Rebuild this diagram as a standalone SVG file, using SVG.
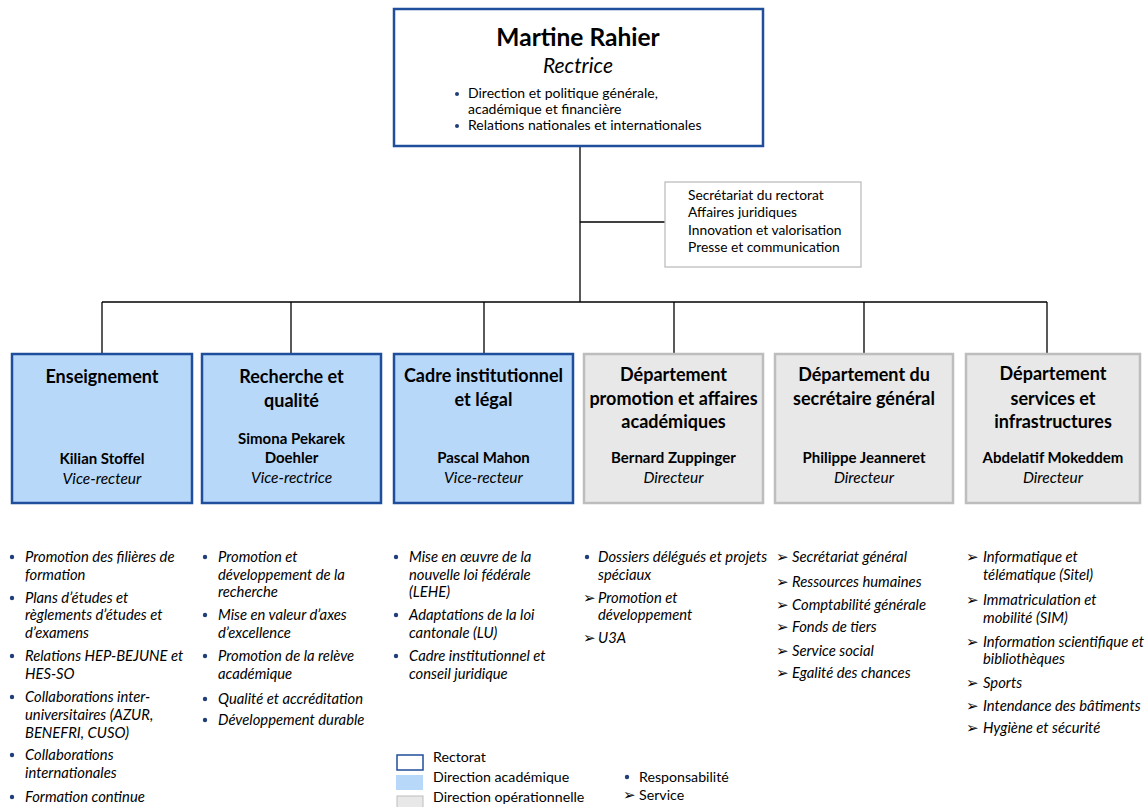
<svg xmlns="http://www.w3.org/2000/svg" width="1146" height="807" viewBox="0 0 1146 807">
<style>
text{font-family:Lato,"Liberation Sans",sans-serif;fill:#000}
.conn{stroke:#000;stroke-width:1.3;fill:none}
.acad{fill:#B8D8FA;stroke:#1F4E9C;stroke-width:2.5}
.oper{fill:#E8E8E8;stroke:#BDBDBD;stroke-width:2.5}
.t{font-size:18px;font-weight:bold;text-anchor:middle}
.n{font-size:15px;font-weight:bold;text-anchor:middle}
.r{font-size:15.5px;font-style:italic;text-anchor:middle}
.li{font-size:14.8px;font-style:italic}
.s{font-size:14px}
.sb{font-size:13.8px}
.lg{font-size:14.2px}
.dot{fill:#1F3E7A}
.arr{font-family:"DejaVu Sans",sans-serif;font-size:15px}
</style>
<g id="connectors">
<line class="conn" x1="580" y1="146" x2="580" y2="302"/>
<line class="conn" x1="580" y1="222" x2="665" y2="222"/>
<line class="conn" x1="102" y1="302" x2="1047" y2="302"/>
<line class="conn" x1="102" y1="302" x2="102" y2="354"/>
<line class="conn" x1="291" y1="302" x2="291" y2="354"/>
<line class="conn" x1="484" y1="302" x2="484" y2="354"/>
<line class="conn" x1="674" y1="302" x2="674" y2="354"/>
<line class="conn" x1="864" y1="302" x2="864" y2="354"/>
<line class="conn" x1="1047" y1="302" x2="1047" y2="354"/>
</g>
<g id="rectrice">
<rect x="394" y="9" width="369" height="137" fill="#fff" stroke="#1F4E9C" stroke-width="2.5"/>
<text x="578" y="46" style="font-size:24.5px;font-weight:bold;text-anchor:middle">Martine Rahier</text>
<text x="578" y="73" style="font-size:21px;font-style:italic;text-anchor:middle">Rectrice</text>
<circle class="dot" cx="457" cy="94" r="2"/>
<text class="s" x="468" y="98">Direction et politique générale,</text>
<text class="s" x="468" y="114">académique et financière</text>
<circle class="dot" cx="457" cy="126" r="2"/>
<text class="s" x="468" y="130">Relations nationales et internationales</text>
</g>
<g id="staff">
<rect x="665" y="182" width="196" height="85" fill="#fff" stroke="#BDBDBD" stroke-width="1.3"/>
<text class="sb" x="688" y="200">Secrétariat du rectorat</text>
<text class="sb" x="688" y="217">Affaires juridiques</text>
<text class="sb" x="688" y="235">Innovation et valorisation</text>
<text class="sb" x="688" y="252">Presse et communication</text>
</g>
<g id="enseignement">
<rect class="acad" x="12" y="354" width="180" height="149"/>
<text class="t" x="102" y="383">Enseignement</text>
<text class="n" x="102" y="464">Kilian Stoffel</text>
<text class="r" x="102" y="484">Vice-recteur</text>
</g>
<g id="recherche">
<rect class="acad" x="202" y="354" width="179" height="149"/>
<text class="t" x="291.5" y="383">Recherche et</text>
<text class="t" x="291.5" y="407">qualité</text>
<text class="n" x="291.5" y="444">Simona Pekarek</text>
<text class="n" x="291.5" y="463">Doehler</text>
<text class="r" x="291.5" y="483">Vice-rectrice</text>
</g>
<g id="cadre">
<rect class="acad" x="394" y="354" width="179" height="149"/>
<text class="t" x="483.5" y="382">Cadre institutionnel</text>
<text class="t" x="483.5" y="406">et légal</text>
<text class="n" x="483.5" y="463">Pascal Mahon</text>
<text class="r" x="483.5" y="483">Vice-recteur</text>
</g>
<g id="promotion">
<rect class="oper" x="584" y="354" width="179" height="149"/>
<text class="t" x="673.5" y="381">Département</text>
<text class="t" x="673.5" y="405">promotion et affaires</text>
<text class="t" x="673.5" y="428">académiques</text>
<text class="n" x="673.5" y="463">Bernard Zuppinger</text>
<text class="r" x="673.5" y="483">Directeur</text>
</g>
<g id="secretaire">
<rect class="oper" x="775" y="354" width="178" height="149"/>
<text class="t" x="864" y="381">Département du</text>
<text class="t" x="864" y="405">secrétaire général</text>
<text class="n" x="864" y="463">Philippe Jeanneret</text>
<text class="r" x="864" y="483">Directeur</text>
</g>
<g id="services">
<rect class="oper" x="966" y="354" width="174" height="149"/>
<text class="t" x="1053" y="380">Département</text>
<text class="t" x="1053" y="405">services et</text>
<text class="t" x="1053" y="428">infrastructures</text>
<text class="n" x="1053" y="463">Abdelatif Mokeddem</text>
<text class="r" x="1053" y="483">Directeur</text>
</g>
<g id="list-enseignement">
<circle class="dot" cx="12" cy="557" r="2.2"/>
<text class="li" x="25" y="562">Promotion des filières de</text>
<text class="li" x="25" y="580">formation</text>
<circle class="dot" cx="12" cy="598" r="2.2"/>
<text class="li" x="25" y="603">Plans d’études et</text>
<text class="li" x="25" y="620">règlements d’études et</text>
<text class="li" x="25" y="638">d’examens</text>
<circle class="dot" cx="12" cy="656" r="2.2"/>
<text class="li" x="25" y="661">Relations HEP-BEJUNE et</text>
<text class="li" x="25" y="679">HES-SO</text>
<circle class="dot" cx="12" cy="697" r="2.2"/>
<text class="li" x="25" y="702">Collaborations inter-</text>
<text class="li" x="25" y="720">universitaires (AZUR,</text>
<text class="li" x="25" y="738">BENEFRI, CUSO)</text>
<circle class="dot" cx="12" cy="755" r="2.2"/>
<text class="li" x="25" y="760">Collaborations</text>
<text class="li" x="25" y="778">internationales</text>
<circle class="dot" cx="12" cy="797" r="2.2"/>
<text class="li" x="25" y="802">Formation continue</text>
</g>
<g id="list-recherche">
<circle class="dot" cx="205" cy="557" r="2.2"/>
<text class="li" x="218" y="562">Promotion et</text>
<text class="li" x="218" y="580">développement de la</text>
<text class="li" x="218" y="597">recherche</text>
<circle class="dot" cx="205" cy="615" r="2.2"/>
<text class="li" x="218" y="620">Mise en valeur d’axes</text>
<text class="li" x="218" y="638">d’excellence</text>
<circle class="dot" cx="205" cy="656" r="2.2"/>
<text class="li" x="218" y="661">Promotion de la relève</text>
<text class="li" x="218" y="679">académique</text>
<circle class="dot" cx="205" cy="699" r="2.2"/>
<text class="li" x="218" y="704">Qualité et accréditation</text>
<circle class="dot" cx="205" cy="720" r="2.2"/>
<text class="li" x="218" y="725">Développement durable</text>
</g>
<g id="list-cadre">
<circle class="dot" cx="396" cy="557" r="2.2"/>
<text class="li" x="409" y="562">Mise en œuvre de la</text>
<text class="li" x="409" y="580">nouvelle loi fédérale</text>
<text class="li" x="409" y="597">(LEHE)</text>
<circle class="dot" cx="396" cy="615" r="2.2"/>
<text class="li" x="409" y="620">Adaptations de la loi</text>
<text class="li" x="409" y="638">cantonale (LU)</text>
<circle class="dot" cx="396" cy="656" r="2.2"/>
<text class="li" x="409" y="661">Cadre institutionnel et</text>
<text class="li" x="409" y="679">conseil juridique</text>
</g>
<g id="list-promotion">
<circle class="dot" cx="587" cy="557" r="2.2"/>
<text class="li" x="598" y="562">Dossiers délégués et projets</text>
<text class="li" x="598" y="580">spéciaux</text>
<text class="arr" x="583" y="603">➢</text>
<text class="li" x="598" y="603">Promotion et</text>
<text class="li" x="598" y="620">développement</text>
<text class="arr" x="583" y="643">➢</text>
<text class="li" x="598" y="643">U3A</text>
</g>
<g id="list-secretaire">
<text class="arr" x="776" y="562">➢</text>
<text class="li" x="792" y="562">Secrétariat général</text>
<text class="arr" x="776" y="587">➢</text>
<text class="li" x="792" y="587">Ressources humaines</text>
<text class="arr" x="776" y="610">➢</text>
<text class="li" x="792" y="610">Comptabilité générale</text>
<text class="arr" x="776" y="632">➢</text>
<text class="li" x="792" y="632">Fonds de tiers</text>
<text class="arr" x="776" y="656">➢</text>
<text class="li" x="792" y="656">Service social</text>
<text class="arr" x="776" y="678">➢</text>
<text class="li" x="792" y="678">Egalité des chances</text>
</g>
<g id="list-services">
<text class="arr" x="966" y="562">➢</text>
<text class="li" x="983" y="562">Informatique et</text>
<text class="li" x="983" y="580">télématique (Sitel)</text>
<text class="arr" x="966" y="605">➢</text>
<text class="li" x="983" y="605">Immatriculation et</text>
<text class="li" x="983" y="623">mobilité (SIM)</text>
<text class="arr" x="966" y="647">➢</text>
<text class="li" x="983" y="647">Information scientifique et</text>
<text class="li" x="983" y="664">bibliothèques</text>
<text class="arr" x="966" y="688">➢</text>
<text class="li" x="983" y="688">Sports</text>
<text class="arr" x="966" y="711">➢</text>
<text class="li" x="983" y="711">Intendance des bâtiments</text>
<text class="arr" x="966" y="733">➢</text>
<text class="li" x="983" y="733">Hygiène et sécurité</text>
</g>
<g id="legend">
<rect x="397" y="755" width="26" height="15" fill="#fff" stroke="#1F4E9C" stroke-width="1.5"/>
<text class="lg" x="433" y="762">Rectorat</text>
<rect x="396" y="775" width="27" height="15" fill="#B8D8FA"/>
<text class="lg" x="433" y="782">Direction académique</text>
<rect x="397" y="796" width="26" height="14" fill="#E8E8E8" stroke="#BDBDBD" stroke-width="1"/>
<text class="lg" x="433" y="802">Direction opérationnelle</text>
<circle class="dot" cx="627" cy="777" r="2.2"/>
<text class="lg" x="639" y="782">Responsabilité</text>
<text class="arr" x="623" y="800">➢</text>
<text class="lg" x="639" y="800">Service</text>
</g>
</svg>
